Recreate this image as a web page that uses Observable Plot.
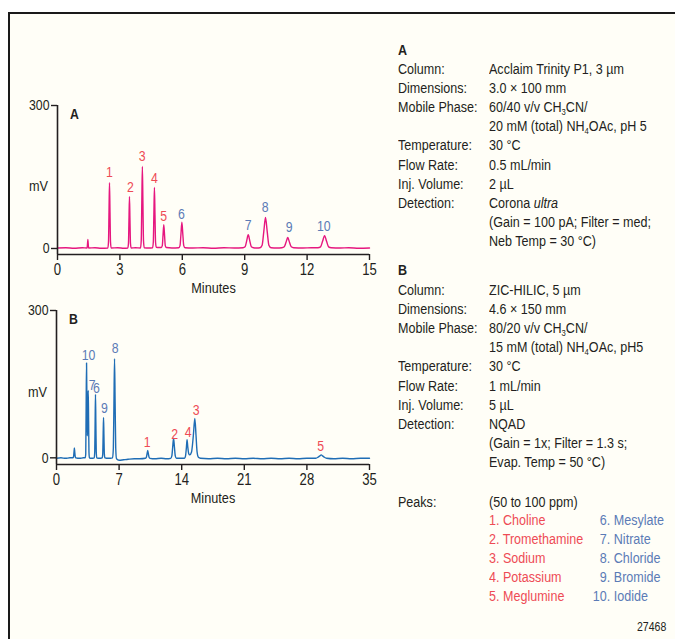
<!DOCTYPE html>
<html>
<head>
<meta charset="utf-8">
<script src="https://cdn.jsdelivr.net/npm/d3@7"></script>
<script src="https://cdn.jsdelivr.net/npm/@observablehq/plot@0.6"></script>
<style>
  body { margin: 0; background: #ffffff; width: 675px; height: 639px; overflow: hidden; position: relative;
         font-family: "Liberation Sans", Arial, sans-serif; color: #231f20; }
  #frame { position: absolute; left: 8px; top: 12px; width: 720px; height: 700px;
           border-left: 2px solid #1a1a1a; border-top: 2px solid #1a1a1a; background: #fffef7; }
  .abs { position: absolute; }
  .row { position: absolute; font-size: 15.5px; line-height: 19.2px; height: 19.2px; white-space: nowrap;
         transform: scaleX(0.81); transform-origin: 0 50%; }
  .hdr { font-weight: bold; font-size: 15.5px; }
  sub { font-size: 9.5px; vertical-align: -3px; line-height: 0; }
  .red { color: #ee4b55; }
  .blue { color: #5b7bb6; }
</style>
</head>
<body>
<div id="frame"></div>
<div id="pa" class="abs" style="left:0;top:90px"></div>
<div id="pb" class="abs" style="left:0;top:295px"></div>
<div id="info"></div>
<script>
// ---------- DATA ----------
const xTicksA = [0, 3, 6, 9, 12, 15];
const xTicksB = [0, 7, 14, 21, 28, 35];
const yTicks = [0, 300];

// Chromatogram A (Acclaim Trinity P1): [minutes, mV]
const traceA = [
  [0,1],[0.4,1.5],[0.8,0.5],[1.2,1.5],[1.41,1],[1.43,3],[1.445,11],[1.46,19],[1.475,11],[1.49,3],[1.51,1],
  [1.8,1.5],[2.1,0.5],[2.42,1],[2.452,14],[2.476,76],[2.5,138],[2.524,76],[2.548,14],[2.58,1],
  [2.9,1.5],[3.2,0.5],[3.38,1],[3.412,11],[3.436,60],[3.46,109],[3.484,60],[3.508,11],[3.54,1],
  [3.75,1.5],[3.99,1],[4.026,17],[4.053,95],[4.08,172],[4.107,95],[4.134,17],[4.17,1.5],
  [4.4,1],[4.57,1.5],[4.606,13],[4.633,70],[4.66,128],[4.687,70],[4.714,13],[4.75,2.5],[4.87,2],
  [4.99,2],[5.038,6],[5.074,28],[5.11,50],[5.146,28],[5.182,6],[5.23,2],
  [5.5,1],[5.83,1.5],[5.89,6],[5.935,30],[5.98,55],[6.025,30],[6.07,6],[6.13,1.5],
  [6.5,1],[7,1.5],[7.5,0.5],[8,1.5],[8.5,1],
  [8.92,1.5],[9.02,3.5],[9.095,16],[9.17,29],[9.245,16],[9.32,3.5],[9.42,1.5],
  [9.6,1],[9.73,1.5],[9.838,7],[9.919,36],[10,65],[10.081,36],[10.162,7],[10.27,1.5],
  [10.55,1],[10.79,1.5],[10.902,3.5],[10.986,13],[11.07,23],[11.154,13],[11.238,3.5],[11.35,1.5],
  [11.8,1],[12.2,1.5],[12.52,1.5],[12.648,3.5],[12.744,15],[12.84,27],[12.936,15],[13.032,3.5],[13.16,1.5],
  [13.6,1],[14,1.5],[14.5,0.5],[15,1]
];

// Chromatogram B (ZIC-HILIC): [minutes, mV]
const traceB = [
  [0,-1],[0.5,0],[1,-1],[1.5,0],[1.85,0],[1.91,3],[1.955,11],[2,20],[2.045,11],[2.09,3],[2.15,0],
  [2.6,-1],[3.0,0],[3.21,0],[3.27,8],[3.315,105],[3.36,193],[3.40,110],[3.44,45],[3.47,55],[3.51,115],
  [3.55,137],[3.59,75],[3.63,12],[3.68,0],[3.9,-1],
  [4.22,0],[4.276,13],[4.318,71],[4.36,129],[4.402,71],[4.444,13],[4.5,0],[4.8,-1],
  [5.11,0],[5.17,8],[5.215,45],[5.26,82],[5.305,45],[5.35,8],[5.41,0],[5.8,-1],
  [6.27,0],[6.358,20],[6.424,111],[6.49,202],[6.556,111],[6.622,20],[6.71,-2],[7.0,-5],[7.5,-4],[8.0,-3],
  [8.7,-2],[9.3,-2],[9.95,-1],[10.05,1],[10.125,8],[10.2,15],[10.275,8],[10.35,1],[10.45,-1],
  [11,-2],[11.7,-1],[12.3,-2],[12.77,-1],[12.898,4],[12.994,22],[13.09,40],[13.186,22],[13.282,4],[13.41,-1],
  [13.8,-1],[14.32,-1],[14.43,4],[14.52,20],[14.6,37],[14.68,22],[14.78,9],[14.9,6],[15.1,12],[15.3,45],
  [15.47,80],[15.6,46],[15.72,12],[15.87,1],[16.1,-1],
  [17,-2],[18,-1],[19,-2],[20,-1],[21,-2],[22,-1],[23,-2],[24,-1],[25,-2],[26,-1],[27,-2],[28,-1],
  [29,-1],[29.3,2],[29.45,4],[29.6,6],[29.75,4],[29.9,2],[30.2,-1],[31,-2],[32,-1],[33,-2],[34,-1],[35,-1]
];

// Peak number labels: [peak, minutes, mV] (label anchor on chart)
const labelsA = [
  [1,2.5,161],[2,3.5,128],[3,4.07,193],[4,4.66,147],[5,5.1,67],
  [6,5.96,73],[7,9.17,49],[8,9.99,86],[9,11.14,45],[10,12.8,46]
];
const labelsB = [
  [10,3.58,209],[7,3.99,147],[6,4.47,141],[9,5.37,101],[8,6.57,223],
  [1,10.15,32],[2,13.2,48],[4,14.73,53],[3,15.63,97],[5,29.53,24]
];

// Conditions text
const condA = [
  ["Column:", "Acclaim Trinity P1, 3 µm"],
  ["Dimensions:", "3.0 × 100 mm"],
  ["Mobile Phase:", "60/40 v/v CH<sub>3</sub>CN/"],
  ["", "20 mM (total) NH<sub>4</sub>OAc, pH 5"],
  ["Temperature:", "30 °C"],
  ["Flow Rate:", "0.5 mL/min"],
  ["Inj. Volume:", "2 µL"],
  ["Detection:", "Corona <i>ultra</i>"],
  ["", "(Gain = 100 pA; Filter = med;"],
  ["", "Neb Temp = 30 °C)"]
];
const condB = [
  ["Column:", "ZIC-HILIC, 5 µm"],
  ["Dimensions:", "4.6 × 150 mm"],
  ["Mobile Phase:", "80/20 v/v CH<sub>3</sub>CN/"],
  ["", "15 mM (total) NH<sub>4</sub>OAc, pH5"],
  ["Temperature:", "30 °C"],
  ["Flow Rate:", "1 mL/min"],
  ["Inj. Volume:", "5 µL"],
  ["Detection:", "NQAD"],
  ["", "(Gain = 1x; Filter = 1.3 s;"],
  ["", "Evap. Temp = 50 °C)"]
];
const peaksLeft = ["Choline", "Tromethamine", "Sodium", "Potassium", "Meglumine"];
const peaksRight = ["Mesylate", "Nitrate", "Chloride", "Bromide", "Iodide"];
const figId = "27468";

// ---------- STYLE ----------
const FONT = '"Liberation Sans", Arial, sans-serif';
const INK = "#231f20";
const RED = "#ee4b55";
const BLUE = "#5b7bb6";
const NARROW = 0.82;

// condense SVG text horizontally around each text's anchor (narrow sans look)
function narrow(svg) {
  svg.querySelectorAll("text").forEach(t => {
    const tr = t.getAttribute("transform") || "";
    const x = parseFloat(t.getAttribute("x")) || 0;
    t.setAttribute("transform", `${tr} translate(${x},0) scale(${NARROW},1) translate(${-x},0)`.trim());
  });
  return svg;
}

function chrom({trace, labels, xTicks, xMax, yMin, height, marginLeft, color, letter, mvDy}) {
  const pts = trace.map(([t, mv]) => ({t, mv}));
  const lab = labels.map(([n, t, mv]) => ({n: String(n), t, mv, red: n <= 5}));
  return narrow(Plot.plot({
    width: 380, height,
    marginLeft, marginRight: 11, marginTop: 15, marginBottom: 46,
    style: {background: "transparent", fontFamily: FONT, color: INK, overflow: "visible"},
    x: {domain: [0, xMax]},
    y: {domain: [yMin, 300]},
    marks: [
      Plot.line(pts, {x: "t", y: "mv", stroke: color, strokeWidth: 1.4, curve: "monotone-x"}),
      Plot.ruleX([0], {stroke: INK, strokeWidth: 1.6}),
      Plot.ruleY([yMin], {stroke: INK, strokeWidth: 1.6}),
      Plot.axisX({ticks: xTicks, tickSize: 6, tickPadding: 3, fontSize: 16, label: null, stroke: INK, strokeWidth: 1.4}),
      Plot.axisY({ticks: yTicks, tickSize: 6, tickPadding: 2, fontSize: 15, label: null, stroke: INK, strokeWidth: 1.4}),
      Plot.text(lab.filter(d => d.red), {x: "t", y: "mv", text: "n", fill: RED, fontSize: 15, lineAnchor: "middle"}),
      Plot.text(lab.filter(d => !d.red), {x: "t", y: "mv", text: "n", fill: BLUE, fontSize: 15, lineAnchor: "middle"}),
      Plot.text(["mV"], {frameAnchor: "left", textAnchor: "middle", lineAnchor: "middle", dx: -19, dy: mvDy, fontSize: 15.5, fill: INK}),
      Plot.text([letter], {frameAnchor: "top-left", textAnchor: "middle", lineAnchor: "middle", dx: 17, dy: 9, fontSize: 15, fontWeight: "bold", fill: INK}),
      Plot.text(["Minutes"], {frameAnchor: "bottom", textAnchor: "middle", lineAnchor: "middle", dy: 34, fontSize: 15.5, fill: INK})
    ]
  }));
}

document.getElementById("pa").appendChild(chrom({
  trace: traceA, labels: labelsA, xTicks: xTicksA, xMax: 15, yMin: -12.6, height: 210,
  marginLeft: 57, color: "#e6177f", letter: "A", mvDy: 6.5
}));
document.getElementById("pb").appendChild(chrom({
  trace: traceB, labels: labelsB, xTicks: xTicksB, xMax: 35, yMin: -13.6, height: 215,
  marginLeft: 56, color: "#1f6db5", letter: "B", mvDy: 5
}));

// ---------- TEXT BLOCK ----------
const info = document.getElementById("info");
const LH = 19.17;
function addRow(x, yCenter, html, cls) {
  const d = document.createElement("div");
  d.className = "row" + (cls ? " " + cls : "");
  d.style.left = x + "px";
  d.style.top = (yCenter - 9.6) + "px";
  d.innerHTML = html;
  info.appendChild(d);
  return d;
}
function block(header, hy, firstY, rows) {
  addRow(398, hy, header, "hdr");
  rows.forEach(([k, v], i) => {
    if (k) addRow(398, firstY + i * LH, k);
    addRow(489, firstY + i * LH, v);
  });
}
block("A", 50, 68.3, condA);
block("B", 270, 289.3, condB);
addRow(398, 501.7, "Peaks:");
addRow(489, 501.7, "(50 to 100 ppm)");
peaksLeft.forEach((name, i) => addRow(489, 519.3 + i * LH, (i + 1) + ". " + name, "red"));
peaksRight.forEach((name, i) => {
  addRow(586, 519.3 + i * LH,
    '<span style="display:inline-block;width:30px;text-align:right">' + (i + 6) + '.</span> ' + name, "blue");
});
const fid = addRow(637, 626.7, figId);
fid.style.fontSize = "13px";
</script>
</body>
</html>
